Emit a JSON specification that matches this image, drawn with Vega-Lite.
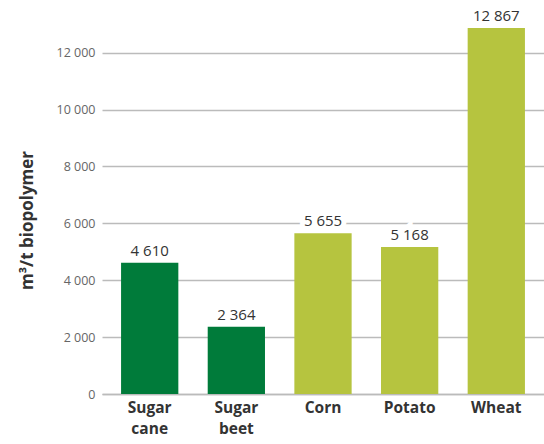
{
  "$schema": "https://vega.github.io/schema/vega-lite/v6.json",
  "width": 442,
  "height": 384,
  "autosize": "none",
  "padding": {"left": 102, "top": 10, "right": 0, "bottom": 50},
  "background": "white",
  "config": {
    "view": {"stroke": null},
    "font": "Open Sans",
    "locale": {"number": {"decimal": ".", "thousands": " ", "grouping": [3], "currency": ["", ""]}}
  },
  "data": {
    "values": [
      {"crop": "Sugar cane", "value": 4610, "group": "sugar"},
      {"crop": "Sugar beet", "value": 2364, "group": "sugar"},
      {"crop": "Corn", "value": 5655, "group": "starch"},
      {"crop": "Potato", "value": 5168, "group": "starch"},
      {"crop": "Wheat", "value": 12867, "group": "starch"}
    ]
  },
  "encoding": {
    "x": {
      "field": "crop", "type": "nominal", "sort": null,
      "scale": {"paddingInner": 0.339, "paddingOuter": 0.22},
      "axis": {
        "title": null, "labelAngle": 0, "ticks": false,
        "domainColor": "#bbbbbb", "domainWidth": 1.5,
        "labelFont": "Open Sans", "labelFontWeight": "bold", "labelFontSize": 15.5,
        "labelColor": "#333333", "labelPadding": 6, "labelLineHeight": 21,
        "labelExpr": "split(datum.label, ' ')"
      }
    },
    "y": {
      "field": "value", "type": "quantitative",
      "scale": {"domain": [0, 13500], "nice": false},
      "axis": {
        "title": "m³/t biopolymer", "values": [0, 2000, 4000, 6000, 8000, 10000, 12000],
        "format": ",d", "domain": false, "ticks": false,
        "gridColor": "#bbbbbb", "gridWidth": 1.5,
        "labelColor": "#666666", "labelFontSize": 12.5, "labelPadding": 7,
        "titleFontSize": 17, "titleFontWeight": "bold", "titleColor": "#333333",
        "titlePadding": 20, "titleY": 210
      }
    }
  },
  "layer": [
    {
      "mark": {"type": "bar"},
      "encoding": {
        "color": {
          "field": "group", "type": "nominal", "legend": null,
          "scale": {"domain": ["sugar", "starch"], "range": ["#007b3a", "#b6c43f"]}
        }
      }
    },
    {
      "mark": {"type": "text", "baseline": "alphabetic", "dy": -7, "fontSize": 15, "fill": "white", "stroke": "white", "strokeWidth": 10},
      "encoding": {"text": {"field": "value", "type": "quantitative", "format": ",d"}}
    },
    {
      "mark": {"type": "text", "baseline": "alphabetic", "dy": -7, "fontSize": 15, "color": "#333333"},
      "encoding": {"text": {"field": "value", "type": "quantitative", "format": ",d"}}
    }
  ]
}
